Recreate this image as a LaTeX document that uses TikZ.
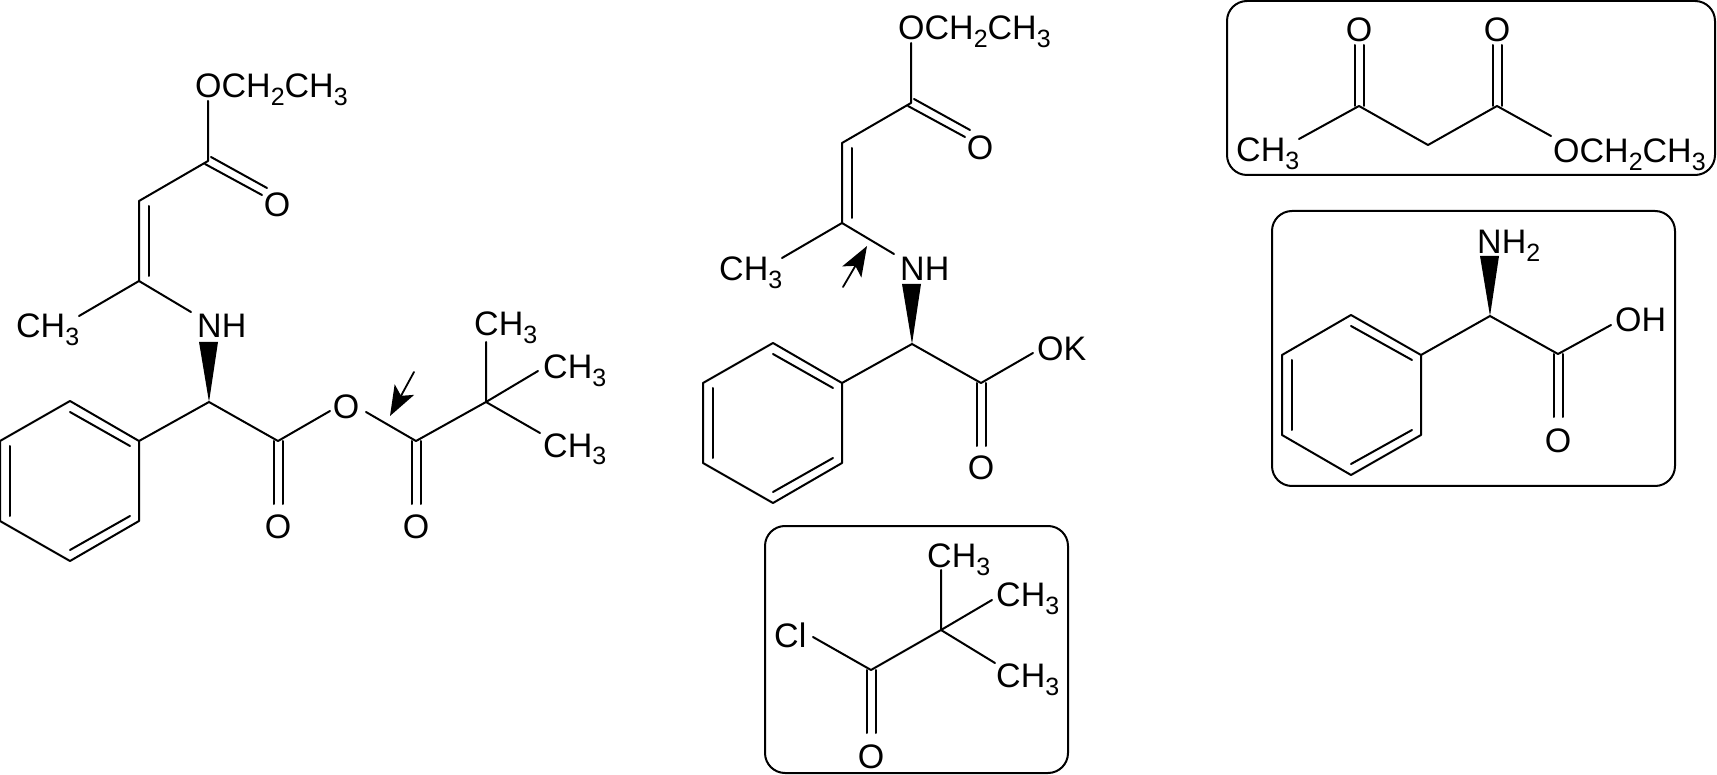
\documentclass[tikz,border=0pt]{standalone}
\usepackage{fontspec}
\setmainfont{Liberation Sans}
\usetikzlibrary{arrows.meta}
\newcommand{\subs}[1]{\raisebox{-8pt}{\fontsize{25}{25}\selectfont #1}}
\newcommand{\methyl}{CH\subs{3}}
\newcommand{\ethoxy}{OCH\subs{2}CH\subs{3}}
\tikzset{
	atom/.style={inner sep=0pt, anchor=base west},
	oxy/.style={inner sep=0pt, anchor=base},
	bond/.style={line width=2pt},
	wedgebond/.style={fill=black},
	marker/.style={line width=1.8pt, -{Stealth[length=30pt, width=22pt, inset=7pt]}},
	frame/.style={line width=2pt, rounded corners=20pt},
}
\begin{document}
\begin{tikzpicture}[x=1pt, y=-1pt, font=\fontsize{34}{36}\selectfont, line join=round, line cap=round]
	\useasboundingbox (0,0) rectangle (1717,775);
	% left molecule
	\coordinate (lEt) at (208,101);
	\coordinate (lEs) at (208,161);
	\coordinate (lOa) at (211,157);
	\coordinate (lOb) at (267,188);
	\coordinate (lOc) at (205,164);
	\coordinate (lOd) at (262,195);
	\coordinate (lCH) at (139,201);
	\coordinate (lCN) at (139,281);
	\coordinate (lMe) at (79,316);
	\coordinate (lNH) at (191,312);
	\coordinate (lAl) at (209,402);
	\coordinate (lWa) at (199,342);
	\coordinate (lWb) at (218,342);
	\coordinate (lR1) at (139,441);
	\coordinate (lR2) at (70,401);
	\coordinate (lR3) at (0,441);
	\coordinate (lR4) at (0,521);
	\coordinate (lR5) at (70,561);
	\coordinate (lR6) at (139,521);
	\coordinate (lCa) at (278,441);
	\coordinate (lCb) at (278,504);
	\coordinate (lOe) at (330,411);
	\coordinate (lOf) at (366,412);
	\coordinate (lCc) at (416,441);
	\coordinate (lCd) at (416,504);
	\coordinate (lQt) at (486,402);
	\coordinate (lM1) at (486,342);
	\coordinate (lM2) at (538,371);
	\coordinate (lM3) at (540,433);
	\coordinate (lTa) at (414,372);
	\coordinate (lTb) at (390,416);
	\node[atom] (lEthoxy) at (195,98) {\ethoxy};
	\node[oxy] (lO1) at (277,217) {O};
	\node[atom] (lCH3) at (16,338) {\methyl};
	\node[atom] (lNH1) at (197,338) {NH};
	\node[oxy] (lO2) at (278,538) {O};
	\node[oxy] (lO3) at (346,419) {O};
	\node[oxy] (lO4) at (416,538) {O};
	\node[atom] (lTop) at (474,336) {\methyl};
	\node[atom] (lRgt) at (543,379) {\methyl};
	\node[atom] (lLow) at (543,457) {\methyl};
	\draw[bond] (lEt) -- (lEs) -- (lCH) -- (lCN) -- (lMe);
	\draw[bond] (lCN) -- (lNH);
	\draw[bond] (lOa) -- (lOb);
	\draw[bond] (lOc) -- (lOd);
	\draw[bond] ([xshift=10pt,yshift=-5pt]lCH) -- ([xshift=10pt,yshift=5pt]lCN);
	\fill[wedgebond] (lAl) -- (lWa) -- (lWb) -- cycle;
	\draw[bond] (lR1) -- (lR2) -- (lR3) -- (lR4) -- (lR5) -- (lR6) -- cycle;
	\draw[bond] ([yshift=-11pt]lR2) -- ([xshift=-9pt,yshift=-5pt]lR1);
	\draw[bond] ([xshift=10pt,yshift=-5pt]lR3) -- ([xshift=10pt,yshift=5pt]lR4);
	\draw[bond] ([yshift=11pt]lR5) -- ([xshift=-9pt,yshift=5pt]lR6);
	\draw[bond] (lR1) -- (lAl) -- (lCa) -- (lOe);
	\draw[bond] ([xshift=-4.5pt]lCa) -- ([xshift=-4.5pt]lCb);
	\draw[bond] ([xshift=4.5pt]lCa) -- ([xshift=4.5pt]lCb);
	\draw[bond] (lOf) -- (lCc) -- (lQt) -- (lM1);
	\draw[bond] (lQt) -- (lM2);
	\draw[bond] (lQt) -- (lM3);
	\draw[bond] ([xshift=-4.5pt]lCc) -- ([xshift=-4.5pt]lCd);
	\draw[bond] ([xshift=4.5pt]lCc) -- ([xshift=4.5pt]lCd);
	\draw[marker] (lTa) -- (lTb);
	% middle molecule
	\coordinate (mEt) at (911,43);
	\coordinate (mEs) at (911,103);
	\coordinate (mOa) at (914,99);
	\coordinate (mOb) at (970,130);
	\coordinate (mOc) at (908,106);
	\coordinate (mOd) at (965,137);
	\coordinate (mCH) at (842,143);
	\coordinate (mCN) at (842,223);
	\coordinate (mMe) at (782,258);
	\coordinate (mNH) at (894,254);
	\coordinate (mAl) at (912,344);
	\coordinate (mWa) at (902,284);
	\coordinate (mWb) at (921,284);
	\coordinate (mR1) at (842,383);
	\coordinate (mR2) at (773,343);
	\coordinate (mR3) at (703,383);
	\coordinate (mR4) at (703,463);
	\coordinate (mR5) at (773,503);
	\coordinate (mR6) at (842,463);
	\coordinate (mCa) at (981,383);
	\coordinate (mCb) at (981,446);
	\coordinate (mOe) at (1033,353);
	\coordinate (mTa) at (843,287);
	\coordinate (mTb) at (867,246);
	\node[atom] (mEthoxy) at (898,40) {\ethoxy};
	\node[oxy] (mO1) at (980,160) {O};
	\node[atom] (mCH3) at (719,281) {\methyl};
	\node[atom] (mNH1) at (900,281) {NH};
	\node[atom] (mOK) at (1037,361) {OK};
	\node[oxy] (mO2) at (981,480) {O};
	\draw[bond] (mEt) -- (mEs) -- (mCH) -- (mCN) -- (mMe);
	\draw[bond] (mCN) -- (mNH);
	\draw[bond] (mOa) -- (mOb);
	\draw[bond] (mOc) -- (mOd);
	\draw[bond] ([xshift=10pt,yshift=-5pt]mCH) -- ([xshift=10pt,yshift=5pt]mCN);
	\fill[wedgebond] (mAl) -- (mWa) -- (mWb) -- cycle;
	\draw[bond] (mR1) -- (mR2) -- (mR3) -- (mR4) -- (mR5) -- (mR6) -- cycle;
	\draw[bond] ([yshift=-11pt]mR2) -- ([xshift=-9pt,yshift=-5pt]mR1);
	\draw[bond] ([xshift=10pt,yshift=-5pt]mR3) -- ([xshift=10pt,yshift=5pt]mR4);
	\draw[bond] ([yshift=11pt]mR5) -- ([xshift=-9pt,yshift=5pt]mR6);
	\draw[bond] (mR1) -- (mAl) -- (mCa) -- (mOe);
	\draw[bond] ([xshift=-4.5pt]mCa) -- ([xshift=-4.5pt]mCb);
	\draw[bond] ([xshift=4.5pt]mCa) -- ([xshift=4.5pt]mCb);
	\draw[marker] (mTa) -- (mTb);
	% acid chloride box
	\draw[frame] (765,526) rectangle (1068,773);
	\coordinate (kCl) at (813,637);
	\coordinate (kCa) at (871,670);
	\coordinate (kCb) at (871,733);
	\coordinate (kQt) at (941,630);
	\coordinate (kM1) at (941,570);
	\coordinate (kM2) at (992,600);
	\coordinate (kM3) at (995,663);
	\node[atom] (kCl1) at (774,647) {Cl};
	\node[oxy] (kO1) at (871,768) {O};
	\node[atom] (kTop) at (927,567) {\methyl};
	\node[atom] (kRgt) at (996,606) {\methyl};
	\node[atom] (kLow) at (996,687) {\methyl};
	\draw[bond] (kCl) -- (kCa) -- (kQt) -- (kM1);
	\draw[bond] (kQt) -- (kM2);
	\draw[bond] (kQt) -- (kM3);
	\draw[bond] ([xshift=-4.5pt]kCa) -- ([xshift=-4.5pt]kCb);
	\draw[bond] ([xshift=4.5pt]kCa) -- ([xshift=4.5pt]kCb);
	% acetoacetate box
	\draw[frame] (1227,1) rectangle (1715,175);
	\coordinate (dMe) at (1299,139);
	\coordinate (dKa) at (1359,106);
	\coordinate (dKb) at (1359,45);
	\coordinate (dCH) at (1428,145);
	\coordinate (dEa) at (1497,106);
	\coordinate (dEb) at (1497,45);
	\coordinate (dOE) at (1551,136);
	\node[atom] (dCH3) at (1236,162) {\methyl};
	\node[oxy] (dO1) at (1359,42) {O};
	\node[oxy] (dO2) at (1497,42) {O};
	\node[atom] (dEthoxy) at (1553,163) {\ethoxy};
	\draw[bond] (dMe) -- (dKa) -- (dCH) -- (dEa) -- (dOE);
	\draw[bond] ([xshift=-4.5pt]dKa) -- ([xshift=-4.5pt]dKb);
	\draw[bond] ([xshift=4.5pt]dKa) -- ([xshift=4.5pt]dKb);
	\draw[bond] ([xshift=-4.5pt]dEa) -- ([xshift=-4.5pt]dEb);
	\draw[bond] ([xshift=4.5pt]dEa) -- ([xshift=4.5pt]dEb);
	% phenylglycine box
	\draw[frame] (1272,211) rectangle (1675,486);
	\coordinate (pAl) at (1490,316);
	\coordinate (pWa) at (1480,256);
	\coordinate (pWb) at (1499,256);
	\coordinate (pR1) at (1421,355);
	\coordinate (pR2) at (1351,315);
	\coordinate (pR3) at (1282,355);
	\coordinate (pR4) at (1282,435);
	\coordinate (pR5) at (1351,475);
	\coordinate (pR6) at (1421,435);
	\coordinate (pCa) at (1558,354);
	\coordinate (pCb) at (1558,417);
	\coordinate (pOH) at (1611,325);
	\node[atom] (pNH2) at (1477,254) {NH\subs{2}};
	\node[atom] (pOH1) at (1615,332) {OH};
	\node[oxy] (pO1) at (1558,453) {O};
	\fill[wedgebond] (pAl) -- (pWa) -- (pWb) -- cycle;
	\draw[bond] (pR1) -- (pR2) -- (pR3) -- (pR4) -- (pR5) -- (pR6) -- cycle;
	\draw[bond] ([yshift=-11pt]pR2) -- ([xshift=-9pt,yshift=-5pt]pR1);
	\draw[bond] ([xshift=10pt,yshift=-5pt]pR3) -- ([xshift=10pt,yshift=5pt]pR4);
	\draw[bond] ([yshift=11pt]pR5) -- ([xshift=-9pt,yshift=5pt]pR6);
	\draw[bond] (pR1) -- (pAl) -- (pCa) -- (pOH);
	\draw[bond] ([xshift=-4.5pt]pCa) -- ([xshift=-4.5pt]pCb);
	\draw[bond] ([xshift=4.5pt]pCa) -- ([xshift=4.5pt]pCb);
\end{tikzpicture}
\end{document}
